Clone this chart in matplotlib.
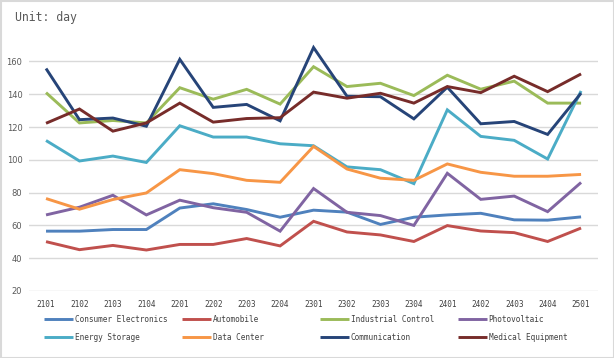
import matplotlib
matplotlib.use('Agg')
import matplotlib.pyplot as plt
from matplotlib.patches import Rectangle

periods = ['2101', '2102', '2103', '2104', '2201', '2202', '2203', '2204', '2301',
           '2302', '2303', '2304', '2401', '2402', '2403', '2404', '2501']

consumer_electronics = [56.5, 56.5, 57.5, 57.5, 70.6, 73.2, 69.7, 65.0, 69.3,
                        68.1, 60.6, 65.0, 66.4, 67.4, 63.4, 63.2, 65.2]
automobile = [50.1, 45.2, 47.8, 45.0, 48.4, 48.4, 52.0, 47.5, 62.5,
              56.0, 54.2, 50.2, 59.9, 56.6, 55.6, 50.2, 58.4]
industrial_control = [141.0, 122.5, 124.0, 122.5, 144.0, 137.0, 143.0, 134.0, 156.8,
                      144.7, 146.7, 139.2, 151.6, 143.1, 148.0, 134.6, 134.6]
photovoltaic = [66.4, 71.1, 78.4, 66.4, 75.4, 70.8, 68.0, 56.5, 82.5,
                68.0, 66.0, 60.0, 91.8, 75.9, 77.9, 68.4, 86.2]
energy_storage = [111.8, 99.3, 102.3, 98.4, 120.8, 113.9, 113.9, 109.8, 108.6,
                  95.7, 94.0, 85.5, 130.5, 114.3, 111.9, 100.5, 142.0]
data_center = [76.4, 69.9, 75.8, 79.8, 94.0, 91.6, 87.5, 86.3, 108.2,
               94.4, 88.8, 87.5, 97.5, 92.4, 90.0, 90.0, 91.1]
communication = [155.7, 124.5, 125.5, 120.5, 161.3, 132.0, 133.8, 123.8, 168.5,
                 138.8, 138.5, 125.0, 144.3, 122.0, 123.4, 115.5, 140.7]
medical_equipment = [122.3, 131.0, 117.5, 122.5, 134.6, 123.0, 125.2, 125.7, 141.3,
                     137.6, 140.6, 134.6, 144.7, 141.0, 151.0, 141.6, 152.4]

series = [
    ('Consumer Electronics', consumer_electronics, '#4F81BD'),
    ('Automobile', automobile, '#C0504D'),
    ('Industrial Control', industrial_control, '#9BBB59'),
    ('Photovoltaic', photovoltaic, '#8064A2'),
    ('Energy Storage', energy_storage, '#4BACC6'),
    ('Data Center', data_center, '#F79646'),
    ('Communication', communication, '#264478'),
    ('Medical Equipment', medical_equipment, '#772C2A'),
]

W, H = 614, 358
fig = plt.figure(figsize=(W / 100, H / 100), dpi=100)
ax = fig.add_axes([29.3 / W, 1 - 291 / H, 568.5 / W, (291 - 41.8) / H])

x = list(range(len(periods)))
lines = []
for name, vals, color in series:
    ln, = ax.plot(x, vals, color=color, linewidth=2.1, label=name,
                  solid_capstyle='butt', solid_joinstyle='miter')
    lines.append(ln)

ax.set_xlim(-0.5, 16.5)
ax.set_ylim(20, 172)
ax.set_yticks(range(20, 161, 20))
ax.set_xticks(x)
ax.set_xticklabels(periods, family='DejaVu Sans Mono', fontsize=5.6, color='#404040')
for lbl in ax.get_yticklabels():
    lbl.set_fontsize(6)
    lbl.set_color('#595959')
ax.tick_params(axis='both', length=0)
ax.tick_params(axis='x', pad=6.5)
ax.tick_params(axis='y', pad=5)
ax.grid(axis='y', color='#D9D9D9', linewidth=1)
ax.set_axisbelow(True)
for sp in ax.spines.values():
    sp.set_visible(False)

fig.text(15 / W, 1 - 18 / H, 'Unit: day', family='DejaVu Sans Mono', fontsize=8.3,
         color='#595959', va='center', ha='left')

# legend: 4 columns, 2 rows each, like Excel's fixed column width
col_x = [44, 182, 320, 458]
for i, cx in enumerate(col_x):
    fig.legend([lines[i], lines[i + 4]], [series[i][0], series[i + 4][0]],
               loc='upper left', bbox_to_anchor=(cx / W, 1 - 315 / H),
               frameon=False, borderpad=0, borderaxespad=0,
               handlelength=3.7, handletextpad=0.25, labelspacing=1.15,
               prop={'family': 'DejaVu Sans Mono', 'size': 5.6},
               labelcolor='#404040')

fig.add_artist(Rectangle((0.5 / W, 0.5 / H), 1 - 1 / W, 1 - 1 / H,
                         transform=fig.transFigure, fill=False,
                         edgecolor='#D9D9D9', linewidth=1.5))

fig.savefig('out.png', dpi=100)
